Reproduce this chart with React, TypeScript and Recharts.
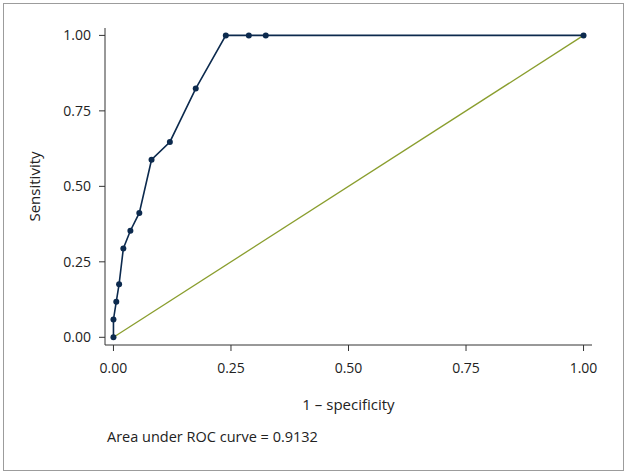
import { LineChart, Line, XAxis, YAxis } from "recharts";

// ROC points
const fpr = [0, 0, 0.006, 0.012, 0.021, 0.036, 0.055, 0.081, 0.12, 0.175, 0.239, 0.288, 0.324, 1];
const tpr = [0, 0.059, 0.118, 0.176, 0.294, 0.353, 0.412, 0.588, 0.647, 0.824, 1, 1, 1, 1];

// reference diagonal
const refX = [0, 1];
const refY = [0, 1];

const ticks = [0, 0.25, 0.5, 0.75, 1];

const rocData = fpr.map((x, i) => ({ x, roc: tpr[i] }));
const refData = refX.map((x, i) => ({ x, ref: refY[i] }));

const FONT = "'Open Sans', sans-serif";
const tickStyle = { fontSize: 14, fill: "#222", fontFamily: FONT };
const labelStyle = { fontSize: 15, fill: "#222", fontFamily: FONT };

export default function App() {
  return (
    <div style={{ position: "absolute", left: 0, top: 0, width: 628, height: 474, background: "#fff" }}>
      <div
        style={{
          position: "absolute",
          left: 3,
          top: 3,
          width: 619,
          height: 466,
          border: "1.5px solid #9c9c9c",
        }}
      />
      <LineChart
        width={628}
        height={474}
        margin={{ top: 28, right: 36, bottom: 99, left: 45 }}
        style={{ position: "absolute", left: 0, top: 0 }}
      >
        <XAxis
          type="number"
          dataKey="x"
          domain={[-0.018, 1.018]}
          ticks={ticks}
          allowDataOverflow
          tickFormatter={(v: number) => v.toFixed(2)}
          tick={tickStyle}
          tickSize={6}
          tickMargin={12}
          height={30}
          stroke="#333"
          label={{
            value: "1 \u2013 specificity",
            position: "bottom",
            offset: 24,
            style: labelStyle,
          }}
        />
        <YAxis
          type="number"
          domain={[-0.0255, 1.0245]}
          ticks={ticks}
          allowDataOverflow
          tickFormatter={(v: number) => v.toFixed(2)}
          tick={tickStyle}
          tickSize={6}
          tickMargin={8}
          width={60}
          stroke="#333"
          label={{
            value: "Sensitivity",
            angle: -90,
            position: "left",
            offset: 10,
            style: { ...labelStyle, textAnchor: "middle" },
          }}
        />
        <Line
          data={refData}
          dataKey="ref"
          stroke="#8a9e2e"
          strokeWidth={1.3}
          dot={false}
          isAnimationActive={false}
        />
        <Line
          data={rocData}
          dataKey="roc"
          stroke="#0c2a4e"
          strokeWidth={1.6}
          dot={{ r: 3, fill: "#0c2a4e", stroke: "none" }}
          isAnimationActive={false}
        />
      </LineChart>
      <div
        style={{
          position: "absolute",
          left: 107,
          top: 427,
          fontSize: 14.5,
          color: "#222",
          fontFamily: FONT,
          lineHeight: "20px",
          whiteSpace: "nowrap",
        }}
      >
        Area under ROC curve = 0.9132
      </div>
    </div>
  );
}
